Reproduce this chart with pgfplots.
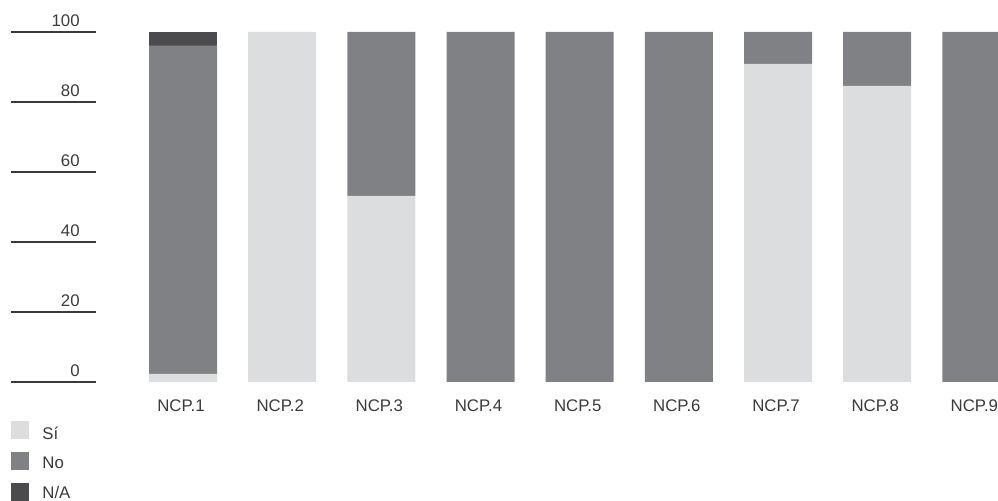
\documentclass[border=0pt]{standalone}
\usepackage{pgfplots}
\pgfplotsset{compat=1.18}
\usepackage{fontspec}
\setmainfont{Liberation Sans}
\definecolor{si}{HTML}{DCDDDF}
\definecolor{no}{HTML}{808185}
\definecolor{na}{HTML}{4B4B4E}
\definecolor{txt}{HTML}{3A3A3A}
\begin{document}
\fontsize{8.4pt}{10pt}\selectfont
\begin{tikzpicture}
\begin{axis}[name=ax, scale only axis, width=499pt, height=250.5pt,
  xmin=0, xmax=998, ymin=-34, ymax=109.143, hide axis,
  ybar stacked, bar width=68]
\addplot[fill=si, draw=none] coordinates {(183,2.3) (282.2,100) (381.3,53.2) (480.5,0) (579.7,0) (678.9,0) (778,90.9) (877.2,84.6) (976.4,0)};
\addplot[fill=no, draw=none] coordinates {(183,93.8) (282.2,0) (381.3,46.8) (480.5,100) (579.7,100) (678.9,100) (778,9.1) (877.2,15.4) (976.4,100)};
\addplot[fill=na, draw=none] coordinates {(183,3.9) (282.2,0) (381.3,0) (480.5,0) (579.7,0) (678.9,0) (778,0) (877.2,0) (976.4,0)};
\pgfplotsinvokeforeach{0,20,40,60,80,100}{
  \draw[txt, line width=0.55pt] (axis cs:11,#1) -- (axis cs:96,#1);
  \node[anchor=base east, inner sep=0pt, text=txt] at (axis cs:80,{#1+1.43}) {#1};
}
\pgfplotsinvokeforeach{1,...,9}{
  \node[anchor=base, inner sep=0pt, text=txt] at (axis cs:{181+99.17*(#1-1)},-8.29) {NCP.#1};
}
\fill[si] (axis cs:11,-11.14) rectangle (axis cs:29,-16.29);
\fill[no] (axis cs:11,-20) rectangle (axis cs:29,-25.14);
\fill[na] (axis cs:11,-28.86) rectangle (axis cs:29,-34);
\node[anchor=base west, inner sep=0pt, text=txt] at (axis cs:42,-16.29) {Sí};
\node[anchor=base west, inner sep=0pt, text=txt] at (axis cs:42,-24.86) {No};
\node[anchor=base west, inner sep=0pt, text=txt] at (axis cs:42,-33.43) {N/A};
\end{axis}
\pgfresetboundingbox
\useasboundingbox (ax.south west) rectangle (ax.north east);
\end{tikzpicture}
\end{document}
